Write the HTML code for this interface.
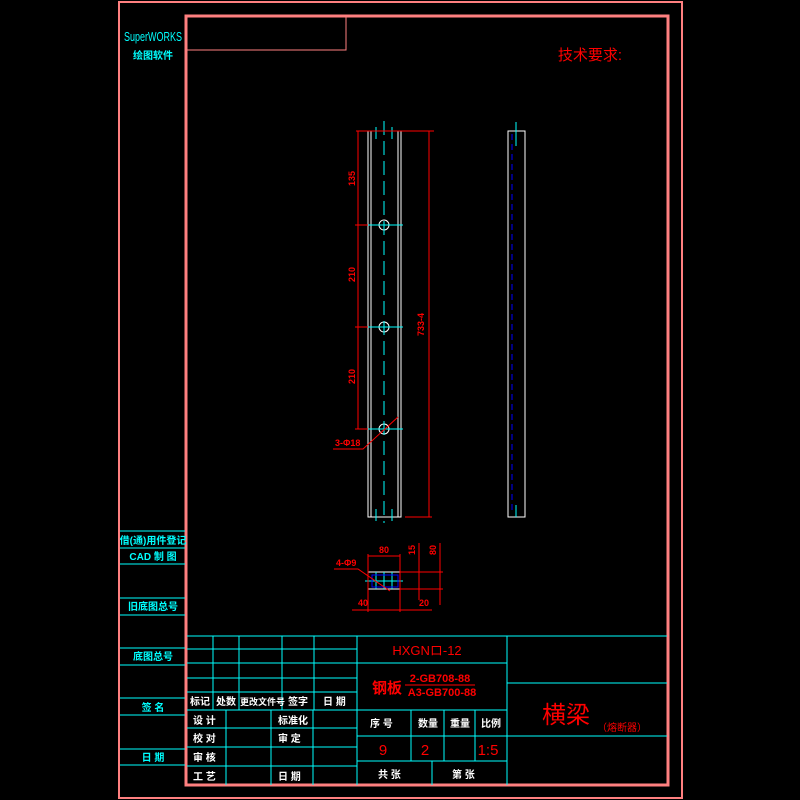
<!DOCTYPE html>
<html><head><meta charset="utf-8"><style>
html,body{margin:0;padding:0;background:#000;}
svg{display:block;}
text{font-family:"Liberation Sans","Noto Sans CJK SC",sans-serif;}
</style></head><body>
<svg width="800" height="800" viewBox="0 0 800 800" xmlns="http://www.w3.org/2000/svg">
<rect width="800" height="800" fill="#000"/>
<rect x="119" y="2" width="563" height="796" fill="none" stroke="#ff8080" stroke-width="2"/>
<rect x="186" y="16" width="482" height="769" fill="none" stroke="#ff8080" stroke-width="3"/>
<rect x="187" y="17" width="159" height="33" fill="none" stroke="#ff8080" stroke-width="1"/>
<text x="124" y="41" fill="#00ffff" font-size="13" textLength="58" lengthAdjust="spacingAndGlyphs" font-family="Liberation Serif,serif">SuperWORKS</text>
<text x="153" y="59" fill="#00ffff" font-size="10" text-anchor="middle" font-weight="bold">绘图软件</text>
<text x="590" y="60" fill="#ff0000" font-size="15" text-anchor="middle">技术要求:</text>
<g stroke="#00ffff" stroke-width="1">
<line x1="120" y1="531" x2="185" y2="531"/><line x1="120" y1="548" x2="185" y2="548"/>
<line x1="120" y1="564" x2="185" y2="564"/><line x1="120" y1="598" x2="185" y2="598"/>
<line x1="120" y1="615" x2="185" y2="615"/><line x1="120" y1="648" x2="185" y2="648"/>
<line x1="120" y1="665" x2="185" y2="665"/><line x1="120" y1="698" x2="185" y2="698"/>
<line x1="120" y1="715" x2="185" y2="715"/><line x1="120" y1="749" x2="185" y2="749"/>
<line x1="120" y1="765" x2="185" y2="765"/>
</g>
<g fill="#00ffff" font-size="10" text-anchor="middle" font-weight="bold">
<text x="153" y="544">借(通)用件登记</text>
<text x="153" y="560">CAD 制 图</text>
<text x="153" y="610">旧底图总号</text>
<text x="153" y="660">底图总号</text>
<text x="153" y="711">签 名</text>
<text x="153" y="761">日 期</text>
</g>
<g stroke="#00ffff" stroke-width="1" fill="none">
<line x1="187" y1="636" x2="667" y2="636"/>
<line x1="187" y1="649" x2="357" y2="649"/><line x1="187" y1="663" x2="357" y2="663"/>
<line x1="187" y1="678" x2="357" y2="678"/><line x1="187" y1="692" x2="357" y2="692"/>
<line x1="187" y1="710" x2="507" y2="710"/><line x1="187" y1="728" x2="357" y2="728"/>
<line x1="187" y1="747" x2="357" y2="747"/><line x1="187" y1="766" x2="357" y2="766"/>
<line x1="213" y1="636" x2="213" y2="710"/><line x1="239" y1="636" x2="239" y2="710"/>
<line x1="282" y1="636" x2="282" y2="710"/><line x1="314" y1="636" x2="314" y2="710"/>
<line x1="226" y1="710" x2="226" y2="785"/><line x1="271" y1="710" x2="271" y2="785"/>
<line x1="313" y1="710" x2="313" y2="785"/>
<line x1="357" y1="636" x2="357" y2="785"/><line x1="507" y1="636" x2="507" y2="785"/>
<line x1="357" y1="663" x2="507" y2="663"/><line x1="357" y1="736" x2="667" y2="736"/>
<line x1="357" y1="761" x2="507" y2="761"/>
<line x1="411" y1="710" x2="411" y2="761"/><line x1="444" y1="710" x2="444" y2="761"/>
<line x1="475" y1="710" x2="475" y2="761"/><line x1="432" y1="761" x2="432" y2="785"/>
<line x1="507" y1="683" x2="667" y2="683"/>
</g>
<g fill="#fff" font-size="10" font-weight="bold">
<text x="190" y="705">标记</text><text x="216" y="705">处数</text><text x="240" y="705" font-size="9">更改文件号</text>
<text x="288" y="705">签字</text><text x="323" y="705">日 期</text>
<text x="193" y="724">设 计</text><text x="193" y="742">校 对</text><text x="193" y="761">审 核</text><text x="193" y="780">工 艺</text>
<text x="278" y="724">标准化</text><text x="278" y="742">审 定</text><text x="278" y="780">日 期</text>
<text x="370" y="727">序 号</text><text x="418" y="727">数量</text><text x="450" y="727">重量</text><text x="481" y="727">比例</text>
<text x="378" y="778">共 张</text><text x="452" y="778">第 张</text>
</g>
<g fill="#ff0000">
<text x="427" y="655" font-size="13" text-anchor="middle">HXGNロ-12</text>
<text x="372" y="693" font-size="15" font-weight="bold">钢板</text>
<text x="440" y="682" font-size="11" text-anchor="middle" font-weight="bold">2-GB708-88</text>
<line x1="405" y1="685" x2="475" y2="685" stroke="#ff0000"/>
<text x="442" y="696" font-size="11" text-anchor="middle" font-weight="bold">A3-GB700-88</text>
<text x="383" y="755" font-size="15" text-anchor="middle">9</text>
<text x="425" y="755" font-size="15" text-anchor="middle">2</text>
<text x="488" y="755" font-size="15" text-anchor="middle">1:5</text>
<text x="566" y="723" font-size="24" text-anchor="middle">横梁</text>
<text x="622" y="731" font-size="10" text-anchor="middle">（熔断器）</text>
</g>
<g stroke="#fff" fill="none" stroke-width="1">
<rect x="368" y="131" width="33" height="386"/>
<line x1="371" y1="131" x2="371" y2="517"/><line x1="398" y1="131" x2="398" y2="517"/>
<circle cx="384" cy="225" r="5"/><circle cx="384" cy="327" r="5"/><circle cx="384" cy="429" r="5"/>
</g>
<g stroke="#00ffff" stroke-width="1">
<line x1="384" y1="121" x2="384" y2="523" stroke-dasharray="14,6"/>
<line x1="376" y1="127" x2="376" y2="139"/><line x1="392" y1="127" x2="392" y2="139"/>
<line x1="376" y1="509" x2="376" y2="521"/><line x1="392" y1="509" x2="392" y2="521"/>
<line x1="366" y1="225" x2="403" y2="225"/><line x1="366" y1="327" x2="403" y2="327"/><line x1="366" y1="429" x2="403" y2="429"/>
</g>
<g stroke="#ff0000" stroke-width="1" fill="none">
<line x1="356" y1="131" x2="434" y2="131"/><line x1="405" y1="517" x2="432" y2="517"/>
<line x1="358" y1="131" x2="358" y2="429"/>
<line x1="355" y1="225" x2="368" y2="225"/><line x1="355" y1="327" x2="368" y2="327"/><line x1="355" y1="429" x2="368" y2="429"/>
<line x1="429" y1="131" x2="429" y2="517"/>
<polyline points="333,449 363,449 398,417"/>
</g>
<g fill="#ff0000" font-size="9" font-weight="bold">
<text transform="translate(355,186) rotate(-90)">135</text>
<text transform="translate(355,282) rotate(-90)">210</text>
<text transform="translate(355,384) rotate(-90)">210</text>
<text transform="translate(424,336) rotate(-90)">733-4</text>
<text x="335" y="446">3-Φ18</text>
</g>
<rect x="508" y="131" width="17" height="386" fill="none" stroke="#fff"/>
<line x1="512" y1="134" x2="512" y2="514" stroke="#0000ff" stroke-dasharray="6,4"/>
<line x1="516" y1="122" x2="516" y2="146" stroke="#00ffff"/>
<line x1="516" y1="505" x2="516" y2="517" stroke="#00ffff"/>
<rect x="368" y="572" width="32" height="17" fill="none" stroke="#fff"/>
<g stroke="#00ffff"><line x1="365" y1="581" x2="403" y2="581"/><line x1="376" y1="572" x2="376" y2="589"/><line x1="384" y1="572" x2="384" y2="589"/><line x1="392" y1="572" x2="392" y2="589"/></g>
<rect x="372" y="575" width="26" height="12" fill="none" stroke="#0000ff"/>
<g stroke="#ff0000" fill="none">
<line x1="368" y1="556" x2="400" y2="556"/><line x1="368" y1="554" x2="368" y2="612"/><line x1="400" y1="554" x2="400" y2="612"/>
<line x1="400" y1="572" x2="443" y2="572"/><line x1="400" y1="589" x2="443" y2="589"/>
<line x1="419" y1="543" x2="419" y2="600"/><line x1="440" y1="543" x2="440" y2="605"/>
<line x1="352" y1="610" x2="432" y2="610"/>
<polyline points="334,569 358,569 390,591"/>
</g>
<g fill="#ff0000" font-size="9" font-weight="bold">
<text x="384" y="553" text-anchor="middle">80</text>
<text transform="translate(415,555) rotate(-90)">15</text>
<text transform="translate(436,555) rotate(-90)">80</text>
<text x="363" y="606" text-anchor="middle">40</text>
<text x="424" y="606" text-anchor="middle">20</text>
<text x="336" y="566">4-Φ9</text>
</g>
</svg>
</body></html>
